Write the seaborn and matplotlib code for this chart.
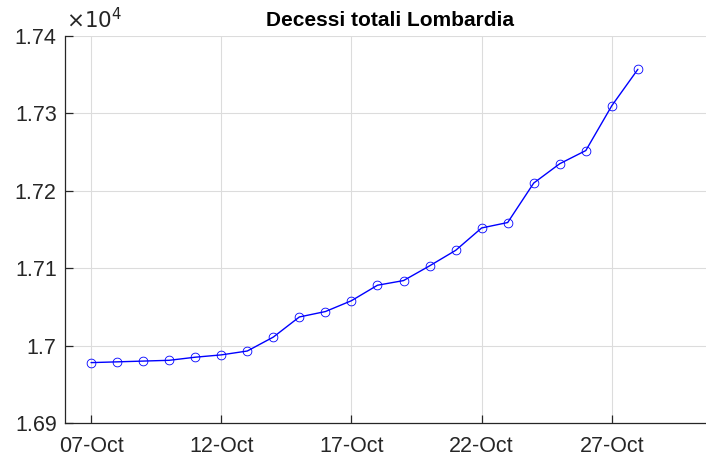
import numpy as np
import pandas as pd
import seaborn as sns
import matplotlib.pyplot as plt
import matplotlib.dates as mdates
from matplotlib.ticker import FuncFormatter, MultipleLocator

# decessi cumulati Lombardia, ottobre 2020
giorni = pd.date_range('2020-10-07', '2020-10-28', freq='D')
decessi = [16978, 16979, 16980, 16981, 16985, 16988, 16993, 17011,
           17037, 17044, 17058, 17078, 17084, 17103, 17123, 17152,
           17159, 17210, 17235, 17252, 17310, 17357]

df = pd.DataFrame({'data': giorni, 'decessi': decessi})

sns.set_style('white')
plt.rcParams['font.family'] = ['Liberation Sans', 'DejaVu Sans']

fig = plt.figure(figsize=(7.06, 4.57), dpi=100)
ax = fig.add_axes([65/706, 34/457, 651/706, 387/457])

sns.lineplot(data=df, x='data', y='decessi', ax=ax, color='blue', lw=1,
             marker='o', markersize=6.3, markerfacecolor='none',
             markeredgecolor='blue', markeredgewidth=0.6)

ax.set_xlim(pd.Timestamp('2020-10-06'), pd.Timestamp('2020-10-31'))
ax.set_ylim(16900, 17400)
ax.xaxis.set_major_locator(mdates.DayLocator(bymonthday=[7, 12, 17, 22, 27]))
ax.xaxis.set_major_formatter(mdates.DateFormatter('%d-%b'))
ax.yaxis.set_major_locator(MultipleLocator(100))
ax.yaxis.set_major_formatter(FuncFormatter(lambda v, p: f'{v/1e4:g}'))

ax.grid(True, color='#dcdcdc', lw=0.8)
ax.set_xlabel('')
ax.set_ylabel('')
for s in ['top', 'right']:
    ax.spines[s].set_visible(False)
for s in ['left', 'bottom']:
    ax.spines[s].set_color('#262626')
    ax.spines[s].set_linewidth(0.9)
ax.tick_params(direction='in', length=6, width=0.9, color='#262626',
               labelsize=15.5, labelcolor='#262626',
               left=True, bottom=True)
ax.tick_params(axis='x', pad=9)
ax.tick_params(axis='y', pad=6)

ax.set_title('Decessi totali Lombardia', fontsize=15, fontweight='bold',
             color='black', pad=7)
ax.text(0.002, 1.006, r'$\times10^4$', transform=ax.transAxes, fontsize=15.5,
        color='#262626', ha='left', va='bottom')

fig.savefig('out.png', dpi=100)
